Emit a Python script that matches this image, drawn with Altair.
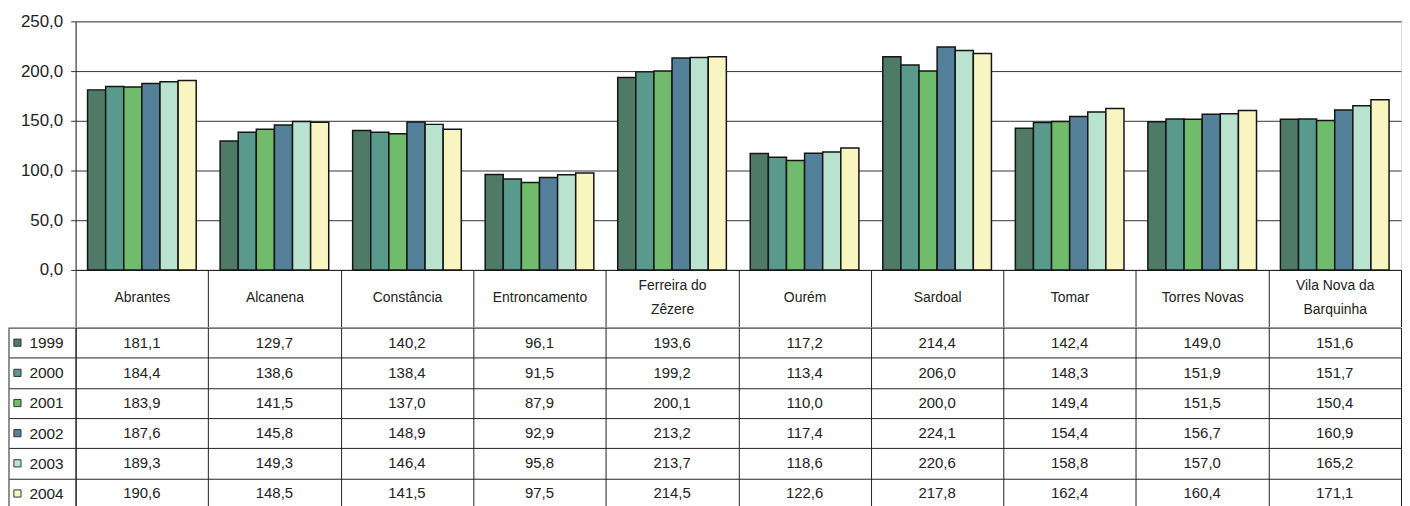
import altair as alt
import pandas as pd

categories = ["Abrantes", "Alcanena", "Constância", "Entroncamento", "Ferreira do Zêzere",
              "Ourém", "Sardoal", "Tomar", "Torres Novas", "Vila Nova da Barquinha"]
header_labels = ["Abrantes", "Alcanena", "Constância", "Entroncamento", "Ferreira do|Zêzere",
                 "Ourém", "Sardoal", "Tomar", "Torres Novas", "Vila Nova da|Barquinha"]
years = ["1999", "2000", "2001", "2002", "2003", "2004"]
v1999 = [181.1, 129.7, 140.2, 96.1, 193.6, 117.2, 214.4, 142.4, 149.0, 151.6]
v2000 = [184.4, 138.6, 138.4, 91.5, 199.2, 113.4, 206.0, 148.3, 151.9, 151.7]
v2001 = [183.9, 141.5, 137.0, 87.9, 200.1, 110.0, 200.0, 149.4, 151.5, 150.4]
v2002 = [187.6, 145.8, 148.9, 92.9, 213.2, 117.4, 224.1, 154.4, 156.7, 160.9]
v2003 = [189.3, 149.3, 146.4, 95.8, 213.7, 118.6, 220.6, 158.8, 157.0, 165.2]
v2004 = [190.6, 148.5, 141.5, 97.5, 214.5, 122.6, 217.8, 162.4, 160.4, 171.1]
y_ticks = [0, 50, 100, 150, 200, 250]
colors = ["#4e7a67", "#5a9a8d", "#70bb6c", "#54809a", "#b9e2cf", "#f8f5c0"]

series = [v1999, v2000, v2001, v2002, v2003, v2004]
rows = []
for yr, vals in zip(years, series):
    for c, v in zip(categories, vals):
        rows.append({"municipio": c, "ano": yr, "valor": v})
df = pd.DataFrame(rows)
df_years = pd.DataFrame({"ano": years})

FONT = "Liberation Sans"
INK = "#222222"
color_scale = alt.Scale(domain=years, range=colors)

cat_js = "[" + ",".join("'" + c + "'" for c in categories) + "]"
lab_js = "[" + ",".join("'" + c + "'" for c in header_labels) + "]"
label_expr = (f"indexof({cat_js}, datum.label) >= 0 ? "
              f"split({lab_js}[indexof({cat_js}, datum.label)], '|') : ''")
two_line = [c for c, h in zip(categories, header_labels) if "|" in h]
two_line_test = " || ".join(f"datum.value == '{c}'" for c in two_line)
comma_fmt = "replace(format(datum.value, '.1f'), '.', ',')"

TABLE_H = 182

bars = alt.Chart(df).mark_bar(stroke="#151515", strokeWidth=1.5).encode(
    x=alt.X("municipio:N", sort=categories,
            scale=alt.Scale(paddingInner=0, paddingOuter=0),
            axis=alt.Axis(title=None, orient="bottom", tickBand="extent", tickSize=57,
                          tickColor=INK, tickWidth=1, domain=True, domainColor=INK,
                          labelExpr=label_expr, labelAngle=0,
                          labelPadding={"condition": {"test": two_line_test, "value": -41},
                                        "value": -29},
                          labelBaseline="middle", labelFontSize=14, labelFont=FONT,
                          labelColor=INK, labelLineHeight=24, labelLimit=130,
                          minExtent=57, maxExtent=57)),
    xOffset=alt.XOffset("ano:N", sort=years,
                        scale=alt.Scale(paddingInner=0, paddingOuter=0.66)),
    y=alt.Y("valor:Q", scale=alt.Scale(domain=[0, 250], nice=False),
            axis=alt.Axis(title=None, values=y_ticks, labelExpr=comma_fmt, grid=True,
                          gridColor="#333333", tickSize=5, tickColor="#333333",
                          domainColor=INK, labelFontSize=17, labelFont=FONT,
                          labelColor=INK, labelPadding=8,
                          minExtent=67, maxExtent=67)),
    color=alt.Color("ano:N", scale=color_scale, legend=None),
).properties(width=1333, height=250)

base = alt.Chart(df).transform_calculate(
    txt="replace(format(datum.valor, '.1f'), '.', ',')"
).encode(
    x=alt.X("municipio:N", sort=categories,
            scale=alt.Scale(paddingInner=0, paddingOuter=0),
            axis=alt.Axis(title=None, orient="top", grid=True, tickBand="extent",
                          labels=False, ticks=False, domain=False, gridColor=INK,
                          minExtent=0, maxExtent=0)),
    y=alt.Y("ano:N", sort=years, scale=alt.Scale(paddingInner=0, paddingOuter=0),
            axis=alt.Axis(title=None, grid=True, tickBand="extent", gridColor=INK,
                          tickSize=67, tickColor=INK, domain=True, domainColor=INK,
                          labelAlign="left", labelPadding=-20, labelFontSize=15.5,
                          labelFont=FONT, labelColor=INK,
                          minExtent=67, maxExtent=67)),
)
values_text = base.mark_text(fontSize=15, font=FONT, color=INK).encode(text="txt:N")

squares = alt.Chart(df_years).mark_square(size=52, stroke="#333333", strokeWidth=1,
                                           opacity=1).encode(
    x=alt.value(-58.5),
    y=alt.Y("ano:N", sort=years),
    color=alt.Color("ano:N", scale=color_scale, legend=None),
)
left_border = alt.Chart(df_years.head(1)).mark_rule(color=INK, strokeWidth=1).encode(
    x=alt.value(-67), y=alt.value(0), y2=alt.value(TABLE_H)
)

table = alt.layer(values_text, squares, left_border).properties(width=1333, height=TABLE_H)

chart = alt.vconcat(bars, table, spacing=-9).resolve_scale(
    x="independent", y="independent"
).properties(
    padding={"left": 0, "top": 2, "right": 0, "bottom": 0},
    background="white",
).configure_view(stroke=INK, strokeWidth=1).configure(font=FONT)

chart.save("out.html", embed_options={"renderer": "svg", "actions": False})
